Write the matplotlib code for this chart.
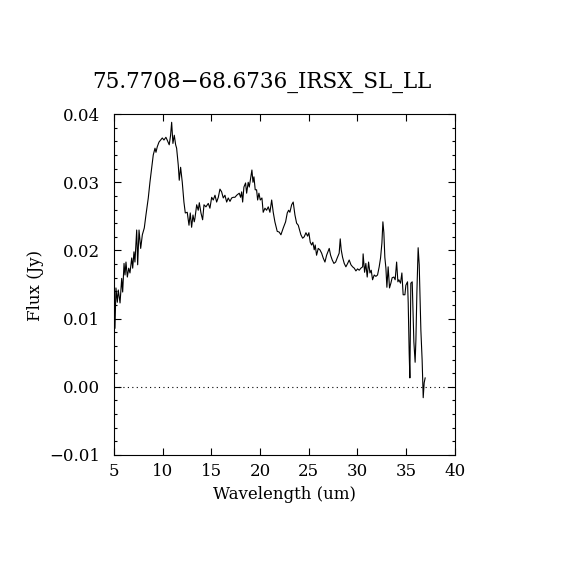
import numpy as np
import matplotlib
matplotlib.use('Agg')
import matplotlib.pyplot as plt
from matplotlib.ticker import MultipleLocator

# spectrum
wave = [5.10, 5.20, 5.34, 5.44, 5.62, 5.79, 5.89, 6.03, 6.13, 6.23, 6.37, 6.51, 6.64,
        6.82, 6.92, 7.05, 7.15, 7.33, 7.43, 7.57, 7.74, 7.91, 8.11, 8.28, 8.52, 8.69,
        8.87, 9.03, 9.21, 9.31, 9.44, 9.62, 9.79, 9.96, 10.13, 10.33, 10.46, 10.67,
        10.81, 10.92, 11.05, 11.19, 11.33, 11.43, 11.60, 11.70, 11.84, 12.01, 12.18,
        12.32, 12.52, 12.70, 12.83, 12.97, 13.11, 13.24, 13.31, 13.49, 13.65, 13.76,
        13.93, 14.10, 14.24, 14.44, 14.68, 14.85, 15.03, 15.19, 15.37, 15.54, 15.71,
        15.88, 16.05, 16.22, 16.39, 16.57, 16.73, 16.91, 17.08, 17.25, 17.42, 17.60,
        17.86, 18.00, 18.11, 18.21, 18.34, 18.51, 18.62, 18.78, 18.89, 19.03, 19.16,
        19.27, 19.37, 19.50, 19.64, 19.75, 19.88, 20.02, 20.19, 20.32, 20.50, 20.67,
        20.84, 21.01, 21.19, 21.35, 21.52, 21.76, 21.96, 22.14, 22.38, 22.62, 22.79,
        22.93, 23.06, 23.24, 23.40, 23.58, 23.75, 23.92, 24.19, 24.37, 24.53, 24.71,
        24.88, 25.01, 25.15, 25.29, 25.42, 25.56, 25.66, 25.80, 25.97, 26.14, 26.32,
        26.48, 26.66, 26.83, 27.10, 27.24, 27.41, 27.58, 27.76, 27.92, 28.12, 28.23,
        28.33, 28.47, 28.64, 28.81, 28.99, 29.15, 29.33, 29.50, 29.67, 29.84, 30.01,
        30.18, 30.35, 30.53, 30.58, 30.73, 30.86, 31.00, 31.14, 31.28, 31.41, 31.55,
        31.72, 31.89, 32.06, 32.23, 32.37, 32.51, 32.61, 32.71, 32.81, 32.92, 33.02,
        33.15, 33.29, 33.43, 33.56, 33.74, 33.87, 34.02, 34.15, 34.25, 34.42, 34.56,
        34.69, 34.87, 34.97, 35.14, 35.21, 35.31, 35.38, 35.48, 35.62, 35.79, 35.92,
        36.00, 36.10, 36.23, 36.34, 36.51, 36.64, 36.75, 36.85, 36.95]
flux = [0.0086, 0.0145, 0.0124, 0.0142, 0.0123, 0.0159, 0.0139, 0.0181, 0.0164, 0.0183,
        0.0161, 0.0174, 0.0167, 0.0189, 0.0174, 0.0198, 0.0183, 0.0230, 0.0179, 0.0230,
        0.0203, 0.0223, 0.0233, 0.0252, 0.0277, 0.0300, 0.0321, 0.0340, 0.0350, 0.0344,
        0.0352, 0.0359, 0.0362, 0.0365, 0.0362, 0.0366, 0.0362, 0.0355, 0.0369, 0.0388,
        0.0357, 0.0369, 0.0355, 0.0350, 0.0325, 0.0303, 0.0322, 0.0300, 0.0271, 0.0255,
        0.0256, 0.0237, 0.0255, 0.0234, 0.0252, 0.0242, 0.0247, 0.0267, 0.0259, 0.0270,
        0.0255, 0.0245, 0.0267, 0.0264, 0.0269, 0.0262, 0.0278, 0.0274, 0.0281, 0.0271,
        0.0278, 0.0290, 0.0286, 0.0277, 0.0281, 0.0271, 0.0277, 0.0272, 0.0277, 0.0278,
        0.0278, 0.0281, 0.0284, 0.0278, 0.0286, 0.0271, 0.0293, 0.0299, 0.0284, 0.0300,
        0.0293, 0.0306, 0.0318, 0.0300, 0.0308, 0.0289, 0.0289, 0.0274, 0.0284, 0.0274,
        0.0277, 0.0256, 0.0262, 0.0259, 0.0264, 0.0256, 0.0274, 0.0256, 0.0242, 0.0228,
        0.0227, 0.0223, 0.0233, 0.0242, 0.0255, 0.0259, 0.0256, 0.0267, 0.0271, 0.0252,
        0.0240, 0.0237, 0.0223, 0.0218, 0.0220, 0.0226, 0.0221, 0.0226, 0.0212, 0.0208,
        0.0212, 0.0201, 0.0208, 0.0193, 0.0203, 0.0201, 0.0196, 0.0189, 0.0183, 0.0193,
        0.0203, 0.0193, 0.0186, 0.0181, 0.0183, 0.0189, 0.0196, 0.0217, 0.0201, 0.0190,
        0.0181, 0.0176, 0.0181, 0.0186, 0.0179, 0.0176, 0.0174, 0.0170, 0.0173, 0.0171,
        0.0174, 0.0176, 0.0195, 0.0168, 0.0181, 0.0161, 0.0183, 0.0167, 0.0171, 0.0157,
        0.0164, 0.0162, 0.0164, 0.0176, 0.0189, 0.0211, 0.0242, 0.0226, 0.0190, 0.0174,
        0.0146, 0.0176, 0.0145, 0.0152, 0.0160, 0.0161, 0.0157, 0.0183, 0.0154, 0.0157,
        0.0152, 0.0167, 0.0135, 0.0135, 0.0149, 0.0154, 0.0123, 0.0049, 0.0013, 0.0152,
        0.0154, 0.0066, 0.0036, 0.0069, 0.0138, 0.0204, 0.0179, 0.0083, 0.0039, -0.0016,
        0.0006, 0.0013]

title = '75.7708\u221268.6736_IRSX_SL_LL'
xticks = [5, 10, 15, 20, 25, 30, 35, 40]
yticks = [-0.01, 0.00, 0.01, 0.02, 0.03, 0.04]
ytick_labels = ['\u22120.01', '0.00', '0.01', '0.02', '0.03', '0.04']

plt.rcParams['font.family'] = ['DejaVu Serif']

fig = plt.figure(figsize=(5.7, 5.7), dpi=100)
ax = fig.add_axes([0.2, 0.2018, 0.598, 0.598])

ax.plot(wave, flux, color='black', lw=0.8)
ax.axhline(0, color='black', lw=0.8, ls=(0, (1, 3)))

ax.set_xlim(5, 40)
ax.set_ylim(-0.01, 0.04)
ax.set_xticks(xticks)
ax.set_yticks(yticks)
ax.set_yticklabels(ytick_labels)
ax.yaxis.set_minor_locator(MultipleLocator(0.002))

ax.tick_params(which='both', direction='in', top=True, right=True, width=0.8)
ax.tick_params(which='major', length=5, labelsize=12)
ax.tick_params(axis='x', which='major', pad=6)
ax.tick_params(axis='y', which='major', pad=10)
ax.tick_params(which='minor', length=2.5)
for s in ax.spines.values():
    s.set_linewidth(0.8)

fig.text(262 / 570, 1 - 88 / 570, title, fontsize=15.5, ha='center', va='baseline')
ax.set_xlabel('Wavelength (um)', fontsize=12, labelpad=4)
fig.text(35 / 570, 0.5, 'Flux (Jy)', fontsize=12, rotation=90, ha='center', va='center')

fig.savefig('out.png', dpi=100)
